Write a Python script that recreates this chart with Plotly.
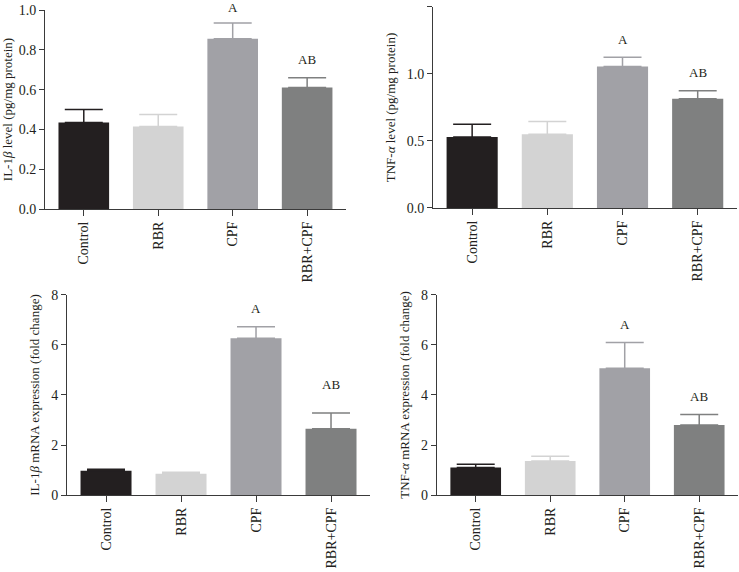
import plotly.graph_objects as go

categories = ["Control", "RBR", "CPF", "RBR+CPF"]
colors = ["#231f20", "#d3d3d3", "#a1a1a6", "#7f8080"]

il1b_protein = [0.435, 0.415, 0.855, 0.61]
il1b_protein_err = [0.065, 0.06, 0.08, 0.05]
tnfa_protein = [0.53, 0.55, 1.055, 0.815]
tnfa_protein_err = [0.095, 0.095, 0.07, 0.06]
il1b_mrna = [0.97, 0.85, 6.27, 2.65]
il1b_mrna_err = [0.06, 0.06, 0.46, 0.63]
tnfa_mrna = [1.1, 1.36, 5.07, 2.8]
tnfa_mrna_err = [0.13, 0.19, 1.03, 0.42]

sig_labels = ["", "", "A", "AB"]
il1b_protein_lab_y = [None, None, 1.015, 0.75]
tnfa_protein_lab_y = [None, None, 1.26, 1.01]
il1b_mrna_lab_y = [None, None, 7.47, 4.4]
tnfa_mrna_lab_y = [None, None, 6.83, 3.93]

panels = [
    dict(vals=il1b_protein, err=il1b_protein_err, laby=il1b_protein_lab_y,
         title="IL-1<i>β</i> level (pg/mg protein)", rng=[0, 1.0], dtick=0.2, fmt=".1f",
         xd=[0.061, 0.468], yd=[0.6346, 0.9825]),
    dict(vals=tnfa_protein, err=tnfa_protein_err, laby=tnfa_protein_lab_y,
         title="TNF-<i>α</i> level (pg/mg protein)", rng=[0, 1.5], dtick=0.5, fmt=".1f",
         xd=[0.586, 0.997], yd=[0.6364, 0.9878]),
    dict(vals=il1b_mrna, err=il1b_mrna_err, laby=il1b_mrna_lab_y,
         title="IL-1<i>β</i> mRNA expression (fold change)", rng=[0, 8], dtick=2, fmt="d",
         xd=[0.0907, 0.5007], yd=[0.1346, 0.4843]),
    dict(vals=tnfa_mrna, err=tnfa_mrna_err, laby=tnfa_mrna_lab_y,
         title="TNF-<i>α</i> mRNA expression (fold change)", rng=[0, 8], dtick=2, fmt="d",
         xd=[0.5913, 0.9986], yd=[0.1346, 0.4843]),
]

font_family = "Liberation Serif, Times New Roman, serif"
fig = go.Figure()
layout = dict(
    width=739, height=572, margin=dict(l=0, r=0, t=0, b=0),
    paper_bgcolor="white", plot_bgcolor="white", showlegend=False,
    barmode="overlay", font=dict(family=font_family, size=14, color="#231f20"),
)
annotations = []
for i, p in enumerate(panels):
    n = "" if i == 0 else str(i + 1)
    xa, ya = "x" + n, "y" + n
    for j, cat in enumerate(categories):
        fig.add_trace(go.Bar(
            x=[cat], y=[p["vals"][j]], xaxis=xa, yaxis=ya, width=0.68,
            marker=dict(color=colors[j], line=dict(width=0)),
            error_y=dict(type="data", symmetric=False, array=[p["err"][j]], arrayminus=[0],
                         color=colors[j], thickness=1.5, width=19),
        ))
        if sig_labels[j]:
            annotations.append(dict(x=cat, y=p["laby"][j] / p["rng"][1], xref=xa, yref=ya + " domain",
                                    xanchor="center", yanchor="middle",
                                    text=sig_labels[j], showarrow=False,
                                    font=dict(family=font_family, size=13, color="#231f20")))
    layout["xaxis" + n] = dict(
        domain=p["xd"], anchor=ya, type="category", categoryorder="array", categoryarray=categories,
        range=[-0.52, 3.52], showline=True, linecolor="#3a3a3a", linewidth=1.2,
        ticks="outside", ticklen=6, tickcolor="#3a3a3a", tickangle=-90, automargin=False,
        tickfont=dict(family=font_family, size=14, color="#231f20"), showgrid=False, zeroline=False,
    )
    layout["yaxis" + n] = dict(
        domain=p["yd"], anchor=xa, range=p["rng"], dtick=p["dtick"], tick0=0, tickformat=p["fmt"],
        showline=True, linecolor="#3a3a3a", linewidth=1.2, ticks="outside", ticklen=5,
        tickcolor="#3a3a3a", tickfont=dict(family=font_family, size=14, color="#231f20"),
        automargin=False,
        title=dict(text=p["title"], font=dict(family=font_family, size=13, color="#231f20"), standoff=8),
        showgrid=False, zeroline=False,
    )
layout["annotations"] = annotations
fig.update_layout(**layout)
fig.update_traces(cliponaxis=False)
fig.write_html("out.html", config={"displayModeBar": False},
               post_script="document.body.style.margin='0';document.body.style.overflow='hidden';")
